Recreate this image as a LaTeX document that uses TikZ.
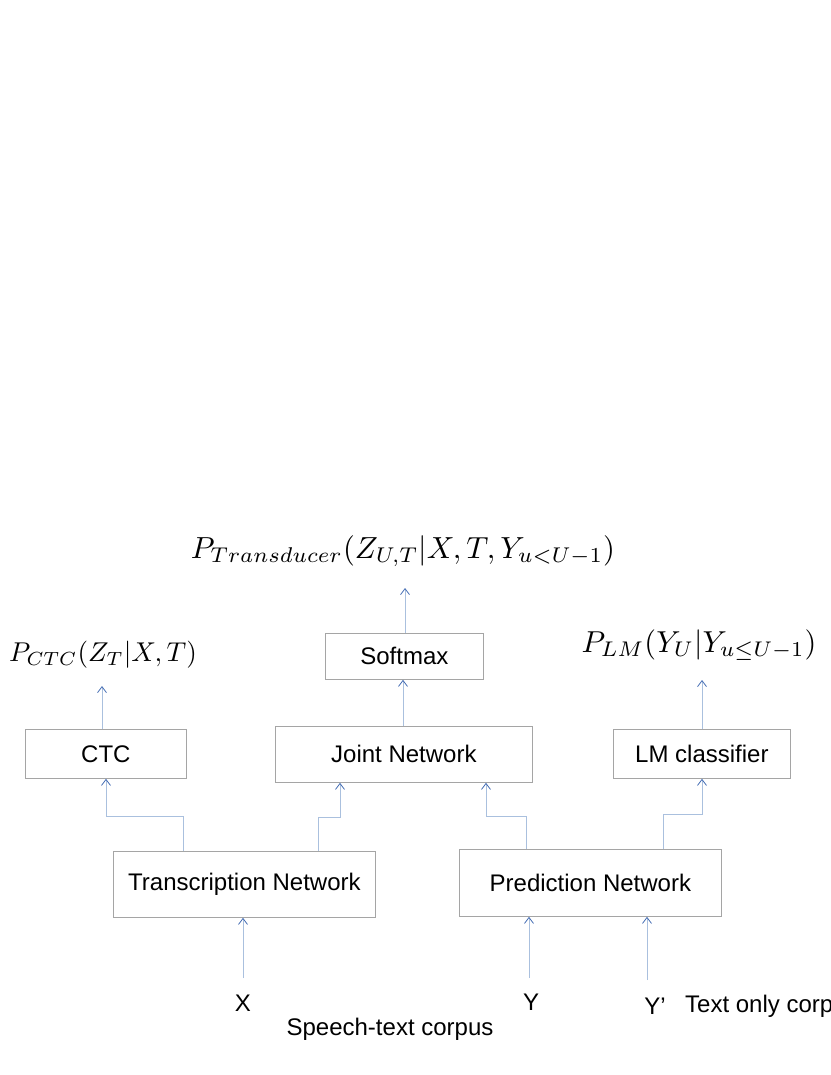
\documentclass[tikz,border=0pt]{standalone}
\usepackage{fontspec}
\setmainfont{Liberation Sans}
\usetikzlibrary{arrows.meta}
\definecolor{boxgray}{RGB}{165,165,165}
\definecolor{linkblue}{RGB}{170,192,222}
\definecolor{tipblue}{RGB}{70,110,180}
\begin{document}
\begin{tikzpicture}[x=1pt,y=-1pt,
  blk/.style={draw=boxgray,line width=0.8pt,minimum height=#1,inner sep=0pt,
    font=\fontsize{24}{28}\selectfont,anchor=north west},
  lnk/.style={draw=linkblue,line width=0.8pt,
    -{Straight Barb[length=6pt,width=9pt,color=tipblue,line width=0.8pt]}},
  txt/.style={font=\fontsize{24}{28}\selectfont,inner sep=0pt},
  mth/.style={inner sep=0pt,scale=#1}]
\useasboundingbox (0,0) rectangle (830,1075);
% boxes
\node[blk=46pt,minimum width=158pt] (soft) at (325,633) {Softmax};
\node[blk=56pt,minimum width=257pt] (joint) at (275,726) {Joint Network};
\node[blk=49pt,minimum width=161pt] (ctc) at (25,729) {CTC};
\node[blk=49pt,minimum width=177pt] (lm) at (613,729) {LM classifier};
\node[blk=66pt,minimum width=262pt] (trans) at (113,851) {Transcription Network};
\node[blk=67pt,minimum width=262pt] (pred) at (459,849) {Prediction Network};
% labels
\node[mth=3.05] (ptr) at (403,551) {$P_{Transducer}(Z_{U,T}|X,T,Y_{u<U-1})$};
\node[mth=2.72] (pctc) at (103,655) {$P_{CTC}(Z_T|X,T)$};
\node[mth=3.03] (plm) at (699,645) {$P_{LM}(Y_U|Y_{u\leq U-1})$};
\node[txt] (x) at (243,1003) {X};
\node[txt] (y) at (531,1002) {Y};
\node[txt] (yp) at (655,1006) {Y’};
\node[txt,anchor=west] (toc) at (685,1006) {Text only corpus};
\node[txt] (stc) at (390,1029) {Speech-text corpus};
% free ends
\coordinate (ptrin) at (405,588);
\coordinate (pctcin) at (102,686);
\coordinate (plmin) at (702,680);
\coordinate (xs) at (243,978);
\coordinate (ys) at (529,978);
\coordinate (yps) at (647,980);
% arrows
\draw[lnk] (soft.north -| ptrin) -- (ptrin);
\draw[lnk] (joint.north -| 403,0) -- (soft.south -| 403,0);
\draw[lnk] (ctc.north -| pctcin) -- (pctcin);
\draw[lnk] (lm.north -| plmin) -- (plmin);
\draw[lnk] (trans.north -| 183,0) -- (183,816) -- (106,816) -- (ctc.south -| 106,0);
\draw[lnk] (trans.north -| 318,0) -- (318,817) -- (340,817) -- (joint.south -| 340,0);
\draw[lnk] (pred.north -| 526,0) -- (526,816) -- (486,816) -- (joint.south -| 486,0);
\draw[lnk] (pred.north -| 663,0) -- (663,814) -- (702,814) -- (lm.south -| 702,0);
\draw[lnk] (xs) -- (trans.south -| xs);
\draw[lnk] (ys) -- (pred.south -| ys);
\draw[lnk] (yps) -- (pred.south -| yps);
\end{tikzpicture}
\end{document}
